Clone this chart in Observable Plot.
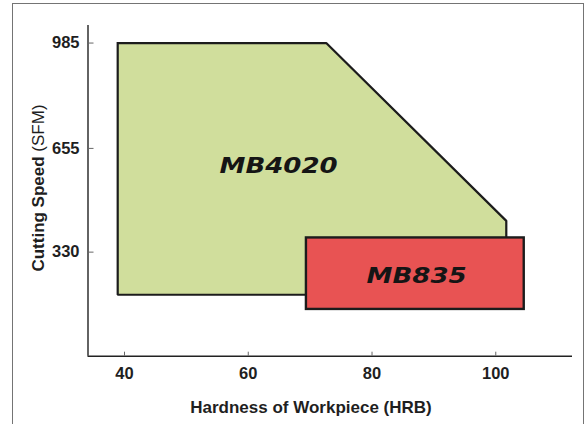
<!DOCTYPE html>
<html><head><meta charset="utf-8">
<script src="https://cdn.jsdelivr.net/npm/d3@7"></script>
<script src="https://cdn.jsdelivr.net/npm/@observablehq/plot@0.6"></script>
<style>
body{margin:0;background:#fff;}
#wrap{position:relative;width:584px;height:424px;overflow:hidden;}
#wrap svg{position:absolute;left:0;top:0;}
#border{position:absolute;left:12px;top:3px;width:572px;height:500px;border:1.5px solid #747474;box-sizing:border-box;pointer-events:none}
</style></head><body><div id="wrap"><div id="border"></div></div>
<script>
// Axis ticks
const xTicks = [40, 60, 80, 100];
const yTicks = [330, 655, 985];
const xDomain = [34.1, 112.4];
const yDomain = [4, 1040];

// MB4020 region (hardness HRB, cutting speed SFM)
const mb4020X = [38.9, 72.6, 101.7, 101.7, 38.9, 38.9];
const mb4020Y = [985, 985, 428, 196.5, 196.5, 985];

// MB835 region
const mb835X = [69.4, 104.6];
const mb835Y = [150.5, 374.5];

// Product labels
const labelNames = ["MB4020", "MB835"];
const labelX = [64.9, 87.2];
const labelY = [600, 257];

const green = "#d0de9c";
const red = "#e85353";
const ink = "#1c1c1c";

const poly = mb4020X.map((x, i) => ({x, y: mb4020Y[i]}));
const rect = [{x1: mb835X[0], x2: mb835X[1], y1: mb835Y[0], y2: mb835Y[1]}];
const labels = labelNames.map((t, i) => ({t, x: labelX[i], y: labelY[i]}));

const font = "'Liberation Sans', Arial, Helvetica, sans-serif";

const plot = Plot.plot({
  width: 584, height: 424,
  marginLeft: 87.5, marginRight: 12, marginTop: 25, marginBottom: 68.3,
  x: {domain: xDomain},
  y: {domain: yDomain},
  style: {fontFamily: font, background: "transparent", color: "#1f1f1f"},
  marks: [
    Plot.line(poly, {x: "x", y: "y", fill: green, stroke: ink, strokeWidth: 2.2, strokeLinejoin: "miter", strokeLinecap: "square"}),
    Plot.rect(rect, {x1: "x1", x2: "x2", y1: "y1", y2: "y2", fill: red, stroke: ink, strokeWidth: 2.4}),
    Plot.text(labels, {x: "x", y: "y", text: "t", fontFamily: "'DejaVu Sans', sans-serif", fontWeight: "bold", fontStyle: "oblique", fontSize: 20.5, fill: "#151515"}),
    Plot.ruleX([xDomain[0]], {stroke: "#222", strokeWidth: 1.4}),
    Plot.ruleY([yDomain[0]], {stroke: "#222", strokeWidth: 1.4}),
    Plot.axisX({ticks: xTicks, tickSize: -4, tickPadding: 15, fontSize: 16.5, fontWeight: "bold", label: null, tickFormat: d => String(d)}),
    Plot.axisY({ticks: yTicks, tickSize: -6, tickPadding: 14.5, fontSize: 16.5, fontWeight: "bold", label: null, tickFormat: d => String(d)})
  ]
});
document.getElementById("wrap").insertBefore(plot, document.getElementById("border"));

const svg = d3.select(plot);
svg.selectAll("g[aria-label='x-axis tick'] path, g[aria-label='y-axis tick'] path").attr("stroke", "#666");

// widen product label glyphs, positioned through the plot's own scales
const sx = plot.scale("x"), sy = plot.scale("y");
svg.selectAll("g[aria-label='text'] text").each(function(_, i) {
  const px = sx.apply(labelX[i]), py = sy.apply(labelY[i]);
  this.removeAttribute("x"); this.removeAttribute("y");
  this.setAttribute("dy", "0.36em");
  this.setAttribute("transform", `translate(${px},${py}) scale(1.27,1)`);
});

// axis titles
svg.append("text")
  .attr("x", 311).attr("y", 407)
  .attr("text-anchor", "middle").attr("dominant-baseline", "central")
  .attr("font-family", font).attr("font-size", 17).attr("font-weight", "bold").attr("fill", "#1f1f1f")
  .text("Hardness of Workpiece (HRB)");

const yl = svg.append("text")
  .attr("transform", "translate(38,188) rotate(-90)")
  .attr("text-anchor", "middle").attr("dominant-baseline", "central")
  .attr("font-family", font).attr("font-size", 17).attr("fill", "#1f1f1f");
yl.append("tspan").attr("font-weight", "bold").text("Cutting Speed ");
yl.append("tspan").attr("font-weight", "normal").text("(SFM)");
</script>
</body></html>
